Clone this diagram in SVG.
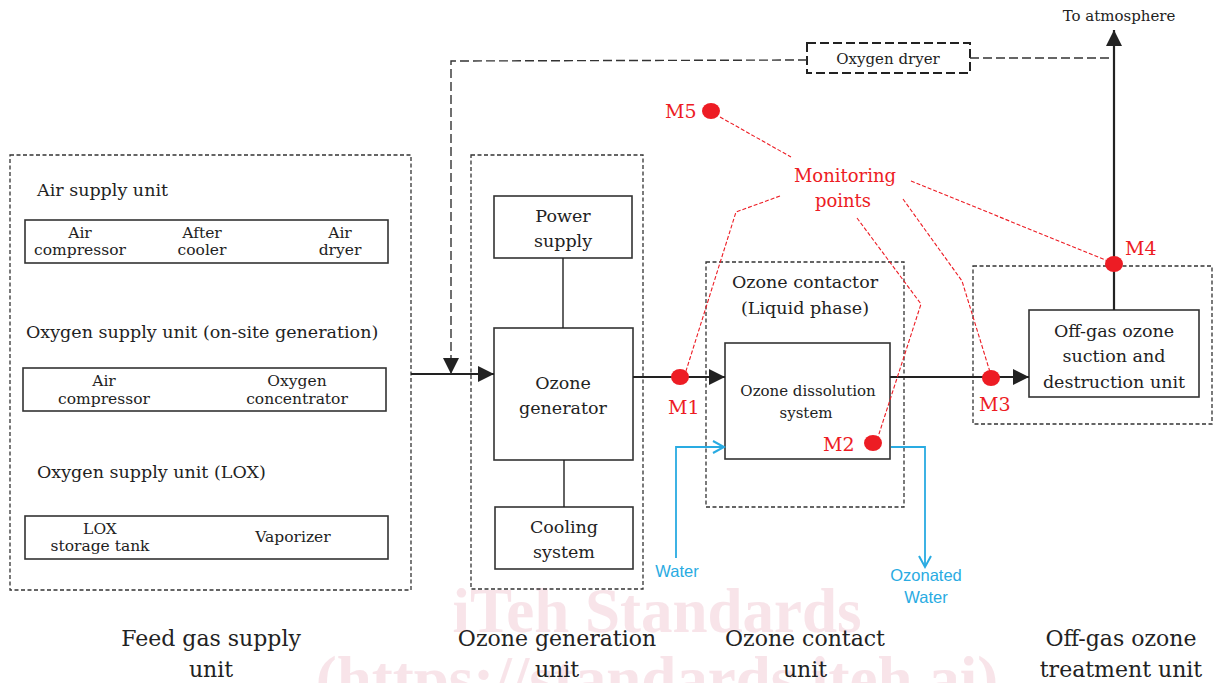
<svg xmlns="http://www.w3.org/2000/svg" width="1213" height="683" viewBox="0 0 1213 683">
<style>
text{font-family:"DejaVu Serif","Liberation Serif",serif;fill:#222;}
.c{text-anchor:middle;}
.s16{font-size:15.5px;}
.s19{font-size:17.5px;}
.s15{font-size:15px;}
.s24{font-size:22px;}
.red{fill:#ed1c24;font-size:18px;}
.redm{fill:#ed1c24;font-size:19px;}
.blue{fill:#29abe2;font-family:"Liberation Sans","Open Sans",sans-serif;font-size:16.5px;}
.unit{fill:none;stroke:#333;stroke-width:1.3;stroke-dasharray:4 2.5;}
.box{fill:#fff;stroke:#333;stroke-width:1.6;}
.flow{fill:none;stroke:#222;stroke-width:2.2;}
.thin{fill:none;stroke:#222;stroke-width:1.4;}
.dry{fill:none;stroke:#333;stroke-width:1.4;stroke-dasharray:9 4;}
.mon{fill:none;stroke:#ed1c24;stroke-width:1.1;stroke-dasharray:4 2;}
.water{fill:none;stroke:#29abe2;stroke-width:1.8;}
.dot{fill:#ed1c24;}
.wm{font-family:"Liberation Serif",serif;font-weight:bold;fill:#f4d3dc;opacity:0.6;}
</style>
<defs>
<marker id="ah" markerUnits="userSpaceOnUse" markerWidth="18" markerHeight="18" refX="16" refY="8" orient="auto">
<path d="M0,0 L16,8 L0,16 Z" fill="#222"/>
</marker>
<marker id="bh" markerUnits="userSpaceOnUse" markerWidth="16" markerHeight="16" refX="13" refY="7" orient="auto">
<path d="M2,1 L13,7 L2,13" fill="none" stroke="#29abe2" stroke-width="2"/>
</marker>
</defs>
<rect width="1213" height="683" fill="#fff"/>

<g id="watermark">
<text class="wm c" x="657" y="632" font-size="63">iTeh Standards</text>
<text class="wm c" x="657" y="700" font-size="63">(https://standards.iteh.ai)</text>
</g>

<g id="feed-gas-unit">
<rect class="unit" x="10" y="155" width="401" height="435"/>
<text class="s19" x="37" y="196">Air supply unit</text>
<rect class="box" x="25" y="220" width="363" height="43"/>
<text class="s16 c" x="80" y="238">Air</text>
<text class="s16 c" x="80" y="255">compressor</text>
<text class="s16 c" x="202" y="238">After</text>
<text class="s16 c" x="202" y="255">cooler</text>
<text class="s16 c" x="340" y="238">Air</text>
<text class="s16 c" x="340" y="255">dryer</text>
<text class="s19" x="26" y="338">Oxygen supply unit (on-site generation)</text>
<rect class="box" x="23" y="368" width="363" height="43"/>
<text class="s16 c" x="104" y="386">Air</text>
<text class="s16 c" x="104" y="404">compressor</text>
<text class="s16 c" x="297" y="386">Oxygen</text>
<text class="s16 c" x="297" y="404">concentrator</text>
<text class="s19" x="37" y="478">Oxygen supply unit (LOX)</text>
<rect class="box" x="25" y="516" width="363" height="43"/>
<text class="s16 c" x="100" y="534">LOX</text>
<text class="s16 c" x="100" y="551">storage tank</text>
<text class="s16 c" x="293" y="542">Vaporizer</text>
</g>

<g id="ozone-generation-unit">
<rect class="unit" x="471" y="155" width="172" height="434"/>
<rect class="box" x="494" y="196" width="138" height="62"/>
<text class="s19 c" x="563" y="222">Power</text>
<text class="s19 c" x="563" y="247">supply</text>
<rect class="box" x="494" y="328" width="139" height="132"/>
<text class="s19 c" x="563" y="389">Ozone</text>
<text class="s19 c" x="563" y="414">generator</text>
<rect class="box" x="495" y="507" width="138" height="62"/>
<text class="s19 c" x="564" y="533">Cooling</text>
<text class="s19 c" x="564" y="558">system</text>
</g>

<g id="ozone-contact-unit">
<rect class="unit" x="706" y="262" width="198" height="245"/>
<text class="s19 c" x="805" y="288">Ozone contactor</text>
<text class="s19 c" x="805" y="314">(Liquid phase)</text>
<rect class="box" x="725" y="343" width="165" height="116"/>
<text class="s15 c" x="808" y="396">Ozone dissolution</text>
<text class="s15 c" x="806" y="418">system</text>
</g>

<g id="off-gas-unit">
<rect class="unit" x="973" y="266" width="239" height="158"/>
<rect class="box" x="1029" y="310" width="170" height="87"/>
<text class="s19 c" x="1114" y="337">Off-gas ozone</text>
<text class="s19 c" x="1114" y="362">suction and</text>
<text class="s19 c" x="1114" y="388">destruction unit</text>
</g>

<g id="oxygen-dryer">
<rect x="807" y="43" width="163" height="30" fill="#fff" stroke="#222" stroke-width="2" stroke-dasharray="9 4"/>
<text class="s15 c" x="888" y="64">Oxygen dryer</text>
</g>

<g id="connectors">
<line class="thin" x1="563" y1="258" x2="563" y2="328"/>
<line class="thin" x1="564" y1="460" x2="564" y2="507"/>
<line class="flow" x1="411" y1="374" x2="494" y2="374" marker-end="url(#ah)"/>
<line class="flow" x1="633" y1="377" x2="725" y2="377" marker-end="url(#ah)"/>
<line class="flow" x1="890" y1="377" x2="1029" y2="377" marker-end="url(#ah)"/>
<line class="flow" x1="1114" y1="310" x2="1114" y2="30" marker-end="url(#ah)"/>
<polyline class="dry" points="807,60 451,61 451,374" marker-end="url(#ah)"/>
<line class="dry" x1="970" y1="58" x2="1113" y2="58"/>
<polyline class="water" points="676,558 676,447 724,447" marker-end="url(#bh)"/>
<polyline class="water" points="891,447 925,447 925,567" marker-end="url(#bh)"/>
<line class="mon" x1="720" y1="117" x2="791" y2="157"/>
<polyline class="mon" points="780,196 736,212 686,371"/>
<polyline class="mon" points="857,218 921,304 878,437"/>
<polyline class="mon" points="903,199 962,281 990,372"/>
<line class="mon" x1="911" y1="181" x2="1108" y2="261"/>
</g>

<g id="monitoring">
<ellipse class="dot" cx="711" cy="111" rx="9" ry="8"/>
<text class="redm" x="665" y="118">M5</text>
<text class="red c" x="845" y="182">Monitoring</text>
<text class="red c" x="843" y="207">points</text>
<ellipse class="dot" cx="680" cy="377" rx="9" ry="8"/>
<text class="redm" x="668" y="414">M1</text>
<ellipse class="dot" cx="873" cy="443" rx="9" ry="8"/>
<text class="redm" x="823" y="451">M2</text>
<ellipse class="dot" cx="991" cy="378" rx="9" ry="8"/>
<text class="redm" x="979" y="411">M3</text>
<ellipse class="dot" cx="1114" cy="264" rx="9" ry="8"/>
<text class="redm" x="1125" y="255">M4</text>
</g>

<g id="labels">
<text class="s15 c" x="1119" y="21">To atmosphere</text>
<text class="blue c" x="677" y="577">Water</text>
<text class="blue c" x="926" y="581">Ozonated</text>
<text class="blue c" x="926" y="603">Water</text>
<text class="s24 c" x="211" y="646">Feed gas supply</text>
<text class="s24 c" x="211" y="677">unit</text>
<text class="s24 c" x="557" y="646">Ozone generation</text>
<text class="s24 c" x="557" y="677">unit</text>
<text class="s24 c" x="805" y="646">Ozone contact</text>
<text class="s24 c" x="805" y="677">unit</text>
<text class="s24 c" x="1121" y="646">Off-gas ozone</text>
<text class="s24 c" x="1121" y="677">treatment unit</text>
</g>
</svg>
